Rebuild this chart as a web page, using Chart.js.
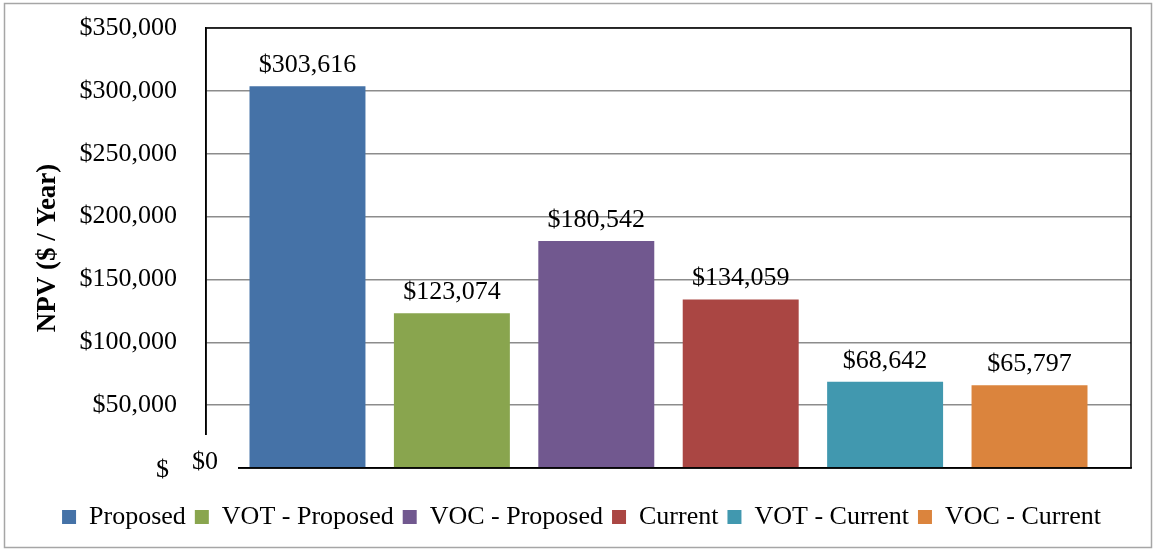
<!DOCTYPE html>
<html>
<head>
<meta charset="utf-8">
<script src="https://cdn.jsdelivr.net/npm/chart.js@4"></script>
<style>
  html, body { margin: 0; padding: 0; background: #fff; }
  #wrap { position: relative; width: 1155px; height: 550px; }
</style>
</head>
<body>
<div id="wrap"><canvas id="npvChart"></canvas></div>
<script>
/* ===============================
   DATA
================================= */

const seriesNames = [
  "Proposed",
  "VOT - Proposed",
  "VOC - Proposed",
  "Current",
  "VOT - Current",
  "VOC - Current"
];
const seriesValues = [303616, 123074, 180542, 134059, 68642, 65797];
const seriesColors = ["#4572A7", "#89A54E", "#71588F", "#AA4643", "#4198AF", "#DB843D"];
const yTicks = [0, 50000, 100000, 150000, 200000, 250000, 300000, 350000];

const FONT = "'Liberation Serif', 'Times New Roman', serif";
const money = v => "$" + v.toLocaleString("en-US");

/* ===============================
   PLUGINS
================================= */

const outerFrame = {
  id: "outerFrame",
  beforeDraw(chart) {
    const { ctx } = chart;
    ctx.save();
    ctx.strokeStyle = "#a6a6a6";
    ctx.lineWidth = 1.5;
    ctx.strokeRect(4.5, 3.5, 1147, 544);
    ctx.restore();
  }
};

const plotFrame = {
  id: "plotFrame",
  afterDraw(chart) {
    const { ctx, chartArea: a } = chart;
    ctx.save();
    ctx.strokeStyle = "#000";
    ctx.lineWidth = 1.5;
    ctx.strokeRect(a.left, a.top, a.right - a.left, a.bottom - a.top);

    // the odd blank corner at the bottom left of the plot
    ctx.fillStyle = "#fff";
    ctx.fillRect(a.left - 2, a.bottom - 33, 34, 36);

    ctx.fillStyle = "#000";
    ctx.font = "26px " + FONT;
    ctx.textBaseline = "alphabetic";
    ctx.textAlign = "left";
    ctx.fillText(money(yTicks[0]), a.left - 14, a.bottom + 1);
    ctx.fillText("$", a.left - 50, a.bottom + 9);

    // value labels
    ctx.textAlign = "center";
    chart.data.datasets.forEach((ds, i) => {
      const bar = chart.getDatasetMeta(i).data[0];
      ctx.fillText(money(ds.data[0]), bar.x, bar.y - 14);
    });
    ctx.restore();
  }
};

/* ===============================
   CHART
================================= */

new Chart(document.getElementById("npvChart"), {
  type: "bar",
  data: {
    labels: [""],
    datasets: seriesNames.map((name, i) => ({
      label: name,
      data: [seriesValues[i]],
      backgroundColor: seriesColors[i],
      borderWidth: 0,
      categoryPercentage: 0.9367,
      barPercentage: 0.803
    }))
  },
  options: {
    responsive: true,
    maintainAspectRatio: false,
    animation: false,
    layout: { padding: { left: 32, top: 28, right: 24, bottom: 10 } },
    plugins: {
      legend: {
        position: "bottom",
        labels: {
          color: "#000",
          font: { family: FONT, size: 26 },
          boxWidth: 14,
          boxHeight: 14,
          padding: 9
        }
      },
      tooltip: { enabled: false }
    },
    scales: {
      x: {
        ticks: { display: false },
        grid: { display: false },
        border: { color: "#000", width: 1.5 },
        afterFit(scale) { scale.height = 27; }
      },
      y: {
        min: 0,
        max: 350000,
        afterBuildTicks(scale) { scale.ticks = yTicks.map(v => ({ value: v })); },
        ticks: {
          color: "#000",
          font: { family: FONT, size: 26 },
          padding: 0,
          callback: v => (v === 0 ? "" : money(v))
        },
        grid: {
          color: "#8c8c8c",
          lineWidth: 1.5,
          drawTicks: true,
          tickLength: 29,
          tickColor: "rgba(0,0,0,0)"
        },
        border: { color: "#000", width: 1.5 },
        title: {
          display: true,
          text: "NPV ($ / Year)",
          color: "#000",
          font: { family: FONT, size: 27, weight: "bold" },
          padding: 0
        },
        afterFit(scale) { scale.width = 174; }
      }
    }
  },
  plugins: [outerFrame, plotFrame]
});
</script>
</body>
</html>
